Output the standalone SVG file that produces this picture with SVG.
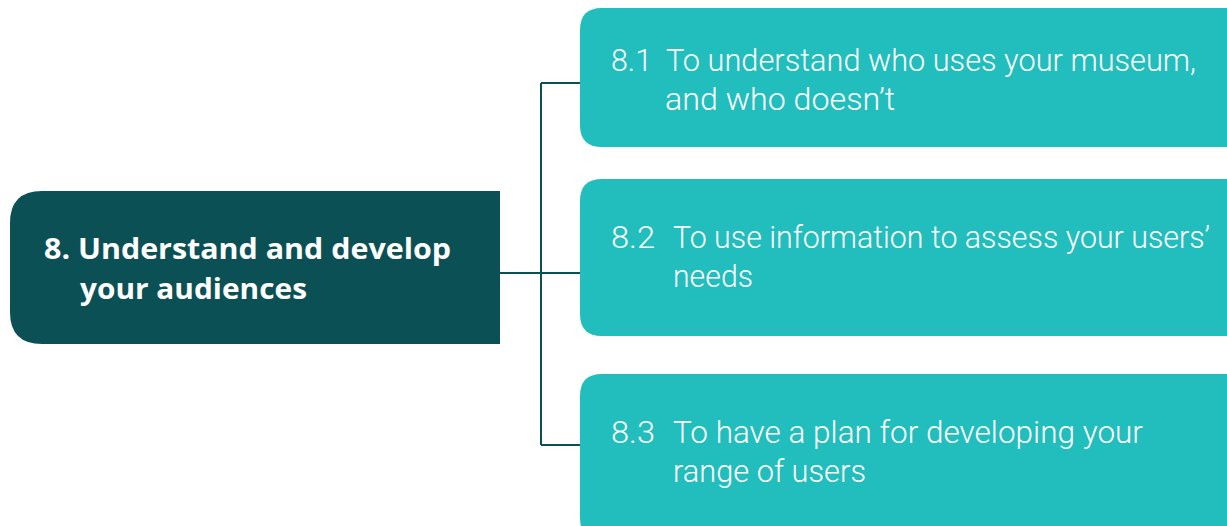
<svg xmlns="http://www.w3.org/2000/svg" width="1227" height="526" viewBox="0 0 1227 526">
<style>
.main{fill:#0b5055}
.sub{fill:#22bdbd}
.ttl{font-family:"Open Sans","Noto Sans",sans-serif;font-weight:bold;font-size:29px;fill:#ffffff}
.txt{font-family:Roboto,"Liberation Sans",sans-serif;font-weight:300;font-size:31px;fill:#ffffff}
.con{stroke:#0b5055;stroke-width:2;fill:none}
</style>
<rect width="1227" height="526" fill="#ffffff"/>
<g id="connectors">
<path class="con" d="M500 273 H541 M541 83 V445 M541 83 H581 M541 273 H581 M541 445 H581"/>
</g>
<g id="node-8">
<path class="main" d="M500 191 V344 H42 Q10 344 10 312 V223 Q10 191 42 191 Z"/>
<text class="ttl" x="44" y="259" textLength="407" lengthAdjust="spacingAndGlyphs">8. Understand and develop</text>
<text class="ttl" x="80" y="299" textLength="227" lengthAdjust="spacingAndGlyphs">your audiences</text>
</g>
<g id="node-8-1">
<path class="sub" d="M1240 8 V147 H602 Q580 147 580 125 V30 Q580 8 602 8 Z"/>
<text class="txt" x="611" y="71" textLength="41" lengthAdjust="spacingAndGlyphs">8.1</text>
<text class="txt" x="666" y="71" textLength="530" lengthAdjust="spacingAndGlyphs">To understand who uses your museum,</text>
<text class="txt" x="665" y="110" textLength="230" lengthAdjust="spacingAndGlyphs">and who doesn’t</text>
</g>
<g id="node-8-2">
<path class="sub" d="M1240 179 V336 H602 Q580 336 580 314 V201 Q580 179 602 179 Z"/>
<text class="txt" x="611" y="248" textLength="44" lengthAdjust="spacingAndGlyphs">8.2</text>
<text class="txt" x="673" y="248" textLength="537" lengthAdjust="spacingAndGlyphs">To use information to assess your users’</text>
<text class="txt" x="673" y="287" textLength="80" lengthAdjust="spacingAndGlyphs">needs</text>
</g>
<g id="node-8-3">
<path class="sub" d="M1240 374 V540 H602 Q580 540 580 518 V396 Q580 374 602 374 Z"/>
<text class="txt" x="611" y="443" textLength="44" lengthAdjust="spacingAndGlyphs">8.3</text>
<text class="txt" x="673" y="443" textLength="470" lengthAdjust="spacingAndGlyphs">To have a plan for developing your</text>
<text class="txt" x="673" y="482" textLength="193" lengthAdjust="spacingAndGlyphs">range of users</text>
</g>
</svg>
